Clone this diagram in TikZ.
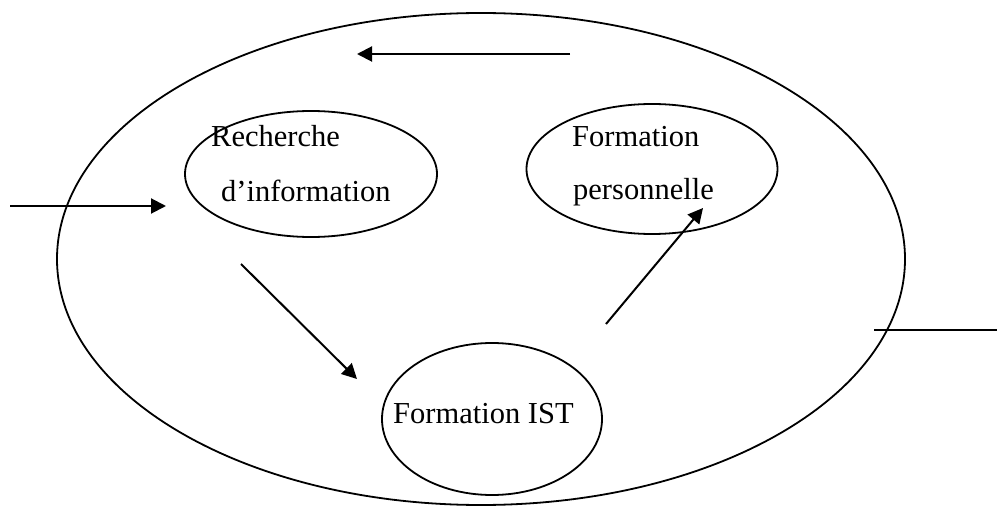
\documentclass[tikz,border=0pt]{standalone}
\usepackage{fontspec}
\setmainfont{Liberation Serif}
\usetikzlibrary{arrows.meta,shapes.geometric}
\begin{document}
\begin{tikzpicture}[x=1pt,y=-1pt,
  oval/.style={draw,ellipse,line width=1.8pt,inner sep=0pt},
  lbl/.style={anchor=base west,inner sep=0pt,font=\fontsize{30.5}{55}\selectfont},
  arr/.style={line width=2pt,-{Triangle[length=15pt,width=15pt]}},
  plain/.style={line width=2pt}]
\useasboundingbox (0,0) rectangle (997,508);
% big ellipse
\node[oval,minimum width=848pt,minimum height=492pt] (big) at (481,259) {};
% small ellipses
\node[oval,minimum width=252pt,minimum height=126pt] (rech) at (311,174) {};
\node[oval,minimum width=251pt,minimum height=130pt] (form) at (652,169) {};
\node[oval,minimum width=220pt,minimum height=152pt] (ist) at (492,419) {};
% texts
\node[lbl] (t1) at (211,147) {Recherche};
\node[lbl] (t2) at (221,202) {d’information};
\node[lbl] (t3) at (572,147) {Formation};
\node[lbl] (t4) at (573,200) {personnelle};
\node[lbl] (t5) at (393,423) {Formation IST};
% connector end points
\coordinate (a1) at (570,54);
\coordinate (a2) at (357,54);
\coordinate (b1) at (10,206);
\coordinate (b2) at (166,206);
\coordinate (c1) at (241,264);
\coordinate (c2) at (357,379);
\coordinate (d1) at (606,324);
\coordinate (d2) at (703,208);
\coordinate (e1) at (874,330);
\coordinate (e2) at (997,330);
\draw[arr] (a1) -- (a2);
\draw[arr] (b1) -- (b2);
\draw[arr] (c1) -- (c2);
\draw[arr] (d1) -- (d2);
\draw[plain] (e1) -- (e2);
\end{tikzpicture}
\end{document}
